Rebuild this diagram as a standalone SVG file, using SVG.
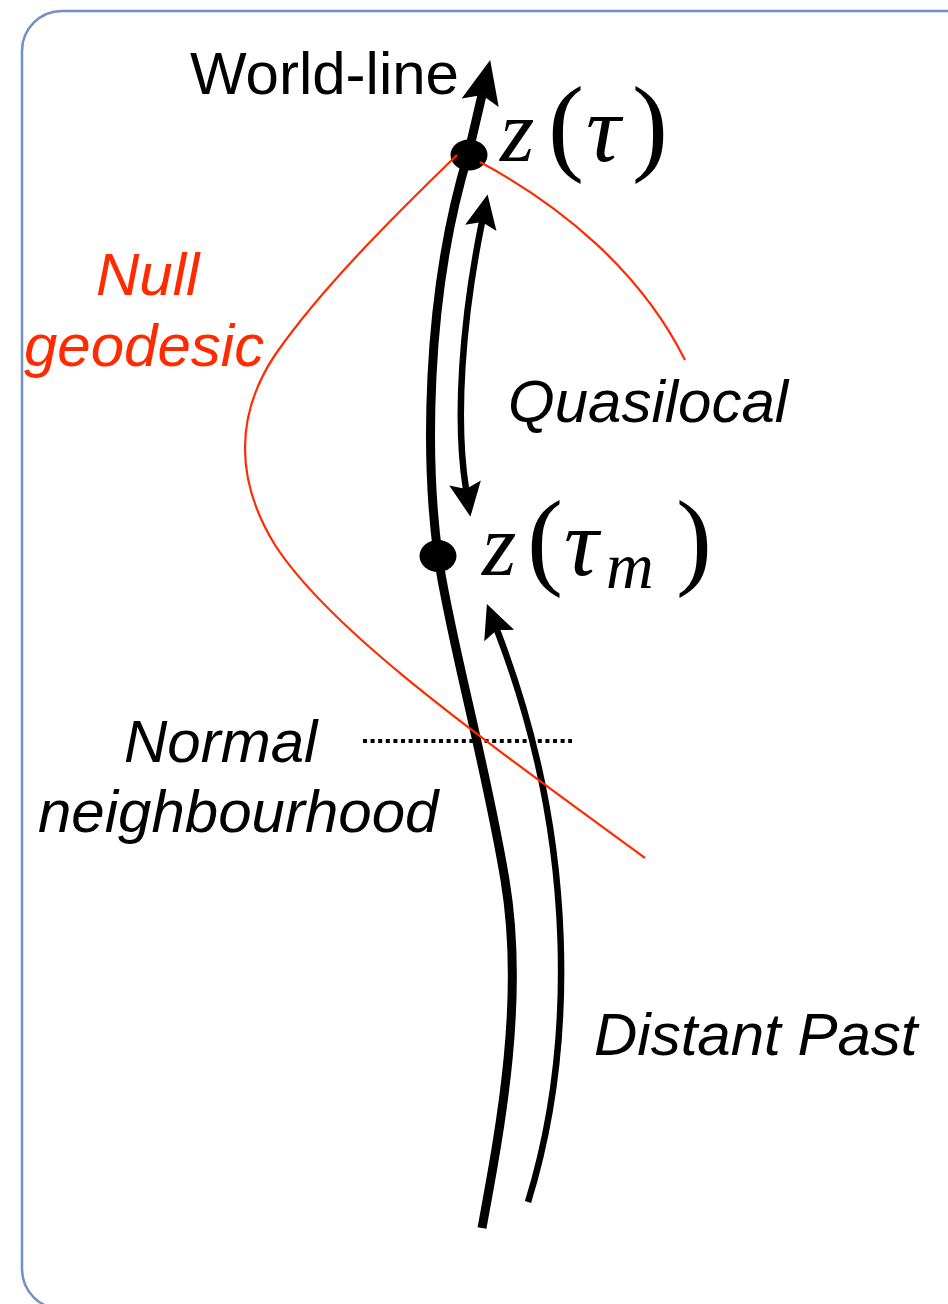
<svg xmlns="http://www.w3.org/2000/svg" width="948" height="1304" viewBox="0 0 948 1304">
<style>
.lbl{font-family:"Liberation Sans",Arial,sans-serif;font-size:60px;fill:#000}
.it{font-style:italic}
.red{fill:#ff2a00}
.math{font-family:"Liberation Serif","Times New Roman",serif;fill:#000}
.mi{font-style:italic}
.wl{fill:none;stroke:#000;stroke-width:9}
.arw{fill:none;stroke:#000;stroke-width:6.5}
.geo{fill:none;stroke:#ff2a00;stroke-width:2.2}
</style>
<defs>
<marker id="bigHead" markerUnits="userSpaceOnUse" viewBox="-2 -22 50 44" markerWidth="50" markerHeight="44" refX="8" refY="0" orient="auto">
<path d="M44,0 L0,-19 L8,0 L0,19 Z" fill="#000"/>
</marker>
<marker id="head" markerUnits="userSpaceOnUse" viewBox="-2 -18 40 36" markerWidth="40" markerHeight="36" refX="6" refY="0" orient="auto-start-reverse">
<path d="M34,0 L0,-16 L6,0 L0,16 Z" fill="#000"/>
</marker>
</defs>
<rect id="frame" x="22" y="11" width="980" height="1298" rx="40" ry="40" fill="#fff" stroke="#7391c0" stroke-width="2.5"/>
<g id="connectors">
<path id="world-line" class="wl" d="M482,1228 C500,1130 525,1000 505,880 S448,630 438,555 C426,465 424,300 468,155 L482,95" marker-end="url(#bigHead)"/>
<path id="quasilocal-arrow" class="arw" d="M482,222 C462,320 455,420 466,489" marker-start="url(#head)" marker-end="url(#head)"/>
<path id="distant-past-arrow" class="arw" d="M528,1202 C575,1050 578,840 497,630" marker-end="url(#head)"/>
<path id="normal-neighbourhood-line" fill="none" stroke="#000" stroke-width="4" stroke-dasharray="4 3.6" d="M363,741 L572,741"/>
</g>
<g id="point-z-tau"><ellipse cx="469" cy="155" rx="18.5" ry="15.5" fill="#000"/></g>
<g id="point-z-tau-m"><ellipse cx="438" cy="556" rx="18.5" ry="16" fill="#000"/></g>
<g id="null-geodesic">
<path class="geo" d="M457,155 C390,220 320,290 275,355 C235,415 235,480 275,545 C330,630 470,730 645,858"/>
<path class="geo" d="M480,162 C560,205 640,270 685,360"/>
</g>
<g id="label-world-line"><text class="lbl" x="190" y="94">World-line</text></g>
<g id="label-z-tau"><text class="math" y="161"><tspan class="mi" x="500" font-size="88">z</tspan><tspan x="548" font-size="108">(</tspan><tspan class="mi" x="586" font-size="96">τ</tspan><tspan x="632" font-size="108">)</tspan></text></g>
<g id="label-z-tau-m"><text class="math" y="575"><tspan class="mi" x="482" font-size="88">z</tspan><tspan x="527" font-size="108">(</tspan><tspan class="mi" x="564" font-size="96">τ</tspan><tspan class="mi" x="606" y="588" font-size="66">m</tspan><tspan x="676" y="575" font-size="108">)</tspan></text></g>
<g id="label-null-geodesic"><text class="lbl it red" x="96" y="295">Null</text><text class="lbl it red" x="24" y="366">geodesic</text></g>
<g id="label-quasilocal"><text class="lbl it" x="508" y="422">Quasilocal</text></g>
<g id="label-normal-neighbourhood"><text class="lbl it" x="124" y="762">Normal</text><text class="lbl it" x="38" y="832">neighbourhood</text></g>
<g id="label-distant-past"><text class="lbl it" x="594" y="1055">Distant Past</text></g>
</svg>
